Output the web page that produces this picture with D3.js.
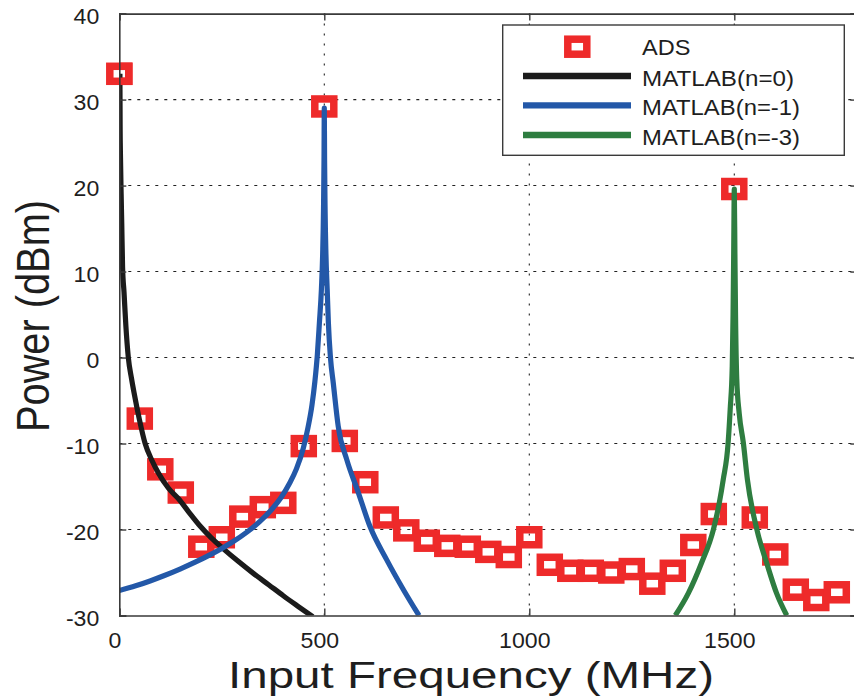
<!DOCTYPE html>
<html>
<head>
<meta charset="utf-8">
<script src="https://cdn.jsdelivr.net/npm/d3@7"></script>
<style>
  html, body { margin: 0; padding: 0; background: #fff; }
  svg { display: block; }
  text { font-family: "Liberation Sans", Arial, Helvetica, sans-serif; fill: #1e1e1e; }
</style>
</head>
<body>
<svg id="chart" width="854" height="700"></svg>
<script>
// ---------------- data ----------------
const adsFreq = [0, 50, 100, 150, 200, 250, 300, 350, 400, 450, 500, 550, 600, 650, 700, 750, 800, 850,
                 900, 950, 1000, 1050, 1100, 1150, 1200, 1250, 1300, 1350, 1400, 1450, 1500, 1550, 1600, 1650, 1700, 1750];
const adsPower = [33.0, -7.1, -13.0, -15.7, -22.0, -20.9, -18.5, -17.4, -16.9, -10.3, 29.2, -9.7, -14.5, -18.6, -20.1, -21.3, -21.9, -22.0,
                  -22.6, -23.2, -20.9, -24.1, -24.8, -24.8, -25.0, -24.6, -26.3, -24.8, -21.8, -18.2, 19.6, -18.6, -22.9, -27.0, -28.2, -27.3];

const blackFreq  = [1.5, 2, 3, 4.5, 6, 8, 11.5, 16, 22, 30, 36, 49, 63, 80, 95, 120, 144, 170, 197, 225, 254, 290, 327, 365, 400, 435, 472];
const blackPower = [33, 27, 23, 19, 15.5, 10.5, 7.6, 3.7, 0, -2.5, -4.1, -7.2, -10, -12, -13.4, -15.2, -16.4, -18, -19.6, -21, -22.25, -23.7, -25.1, -26.45, -27.7, -28.9, -30.15];

const blueFreq  = [0, 40, 75, 110, 148, 185, 221, 250, 278, 310, 343, 370, 395, 415, 432, 449, 460, 470, 477, 483, 488, 493, 496, 498, 499.3, 500,
                   500.7, 502, 504, 507, 510, 515, 522, 534, 555, 583, 611, 652, 693, 731];
const bluePower = [-27.1, -26.55, -25.98, -25.35, -24.6, -23.8, -22.95, -22.2, -21.4, -20.35, -19.05, -17.75, -16.25, -14.65, -12.95, -10.5, -8.2, -5.5, -2.8, 0.3, 4, 8, 12, 17, 23, 29,
                   23, 17, 12, 8, 4, 0, -3, -8, -11.9, -15.7, -19.6, -23.5, -27, -30];

const greenFreq  = [1356, 1388, 1420, 1449, 1463, 1473, 1485, 1490, 1495, 1497, 1498.5, 1500,
                    1501.5, 1503, 1506, 1512, 1522, 1532, 1555, 1579, 1603, 1628];
const greenPower = [-30, -27.4, -23.9, -20, -17, -14.2, -9.9, -6, -1, 5, 12, 19.6,
                    12, 5, -2.5, -6.5, -9.9, -14.2, -20, -23.9, -27.4, -30];

const xTicks = [0, 500, 1000, 1500];
const yTicks = [-30, -20, -10, 0, 10, 20, 30, 40];
const legendLabels = ["ADS", "MATLAB(n=0)", "MATLAB(n=-1)", "MATLAB(n=-3)"];
const xTitle = "Input Frequency (MHz)";
const yTitle = "Power (dBm)";

// ---------------- layout ----------------
const svg = d3.select("#chart");
svg.append("rect").attr("width", 854).attr("height", 700).attr("fill", "#fff");

const L = 119.3, R = 857.3, T = 13.6, B = 615.5;
const x = d3.scaleLinear().domain([0, 1800]).range([L, R]);
const y = d3.scaleLinear().domain([-30, 40]).range([B, T]);

const COL = { red: "#ee2a2a", black: "#1b1b1b", blue: "#2358a8", green: "#2e7d40", frame: "#3a3a3a" };

// clip
svg.append("defs").append("clipPath").attr("id", "plotclip")
  .append("rect").attr("x", L).attr("y", T).attr("width", R - L).attr("height", B - T);

// grid
const grid = svg.append("g");
grid.selectAll("line.gy").data(yTicks.filter(d => d > -30 && d < 40)).join("line")
  .attr("x1", L).attr("x2", R).attr("y1", d => y(d)).attr("y2", d => y(d))
  .attr("stroke", "#222").attr("stroke-width", 1.1).attr("stroke-dasharray", "3,6");
grid.selectAll("line.gx").data(xTicks.filter(d => d > 0)).join("line")
  .attr("y1", T).attr("y2", B).attr("x1", d => x(d)).attr("x2", d => x(d))
  .attr("stroke", "#222").attr("stroke-width", 1.1).attr("stroke-dasharray", "2,8");

const plot = svg.append("g").attr("clip-path", "url(#plotclip)");

// ADS markers (hollow squares)
const mW = 19, mH = 15, mS = 7.5;
plot.selectAll("rect.ads").data(adsFreq.map((f, i) => [f, adsPower[i]])).join("rect")
  .attr("x", d => x(d[0]) - mW / 2).attr("y", d => y(d[1]) - mH / 2)
  .attr("width", mW).attr("height", mH)
  .attr("fill", "none").attr("stroke", COL.red).attr("stroke-width", mS);
// first marker sits on axis; draw it unclipped too
svg.append("rect")
  .attr("x", x(adsFreq[0]) - mW / 2).attr("y", y(adsPower[0]) - mH / 2)
  .attr("width", mW).attr("height", mH)
  .attr("fill", "none").attr("stroke", COL.red).attr("stroke-width", mS);

// lines
const line = d3.line().x(d => x(d[0])).y(d => y(d[1])).curve(d3.curveMonotoneX);
function drawLine(fs, ps, color) {
  plot.append("path").datum(fs.map((f, i) => [f, ps[i]]))
    .attr("d", line).attr("fill", "none").attr("stroke", color)
    .attr("stroke-width", 5.2).attr("stroke-linejoin", "round");
}
drawLine(blackFreq, blackPower, COL.black);
drawLine(blueFreq, bluePower, COL.blue);
drawLine(greenFreq, greenPower, COL.green);

// axes
const fmt = d => String(d);
const gB = svg.append("g").attr("transform", `translate(0,${B})`)
  .call(d3.axisBottom(x).tickValues(xTicks).tickFormat(fmt).tickSize(-7).tickPadding(17));
const gL = svg.append("g").attr("transform", `translate(${L},0)`)
  .call(d3.axisLeft(y).tickValues(yTicks).tickFormat(fmt).tickSize(-7).tickPadding(20));
const gT = svg.append("g").attr("transform", `translate(0,${T})`)
  .call(d3.axisTop(x).tickValues(xTicks).tickFormat("").tickSize(-7));
const gR = svg.append("g").attr("transform", `translate(${R},0)`)
  .call(d3.axisRight(y).tickValues(yTicks).tickFormat("").tickSize(-7));
[gB, gL, gT, gR].forEach(g => {
  g.select(".domain").attr("stroke", COL.frame).attr("stroke-width", 1.6);
  g.selectAll(".tick line").attr("stroke", COL.frame).attr("stroke-width", 1.4);
  g.selectAll("text").attr("font-family", null).attr("font-size", 22).attr("fill", "#1e1e1e");
});
gB.selectAll(".tick text").attr("dx", -5);
gL.selectAll(".tick text").attr("y", 3);

// titles
svg.append("text").attr("class", "xt")
  .attr("x", 471).attr("y", 688).attr("text-anchor", "middle")
  .attr("font-size", 37).text(xTitle);
svg.append("text").attr("class", "yt")
  .attr("transform", "translate(49,316) rotate(-90)").attr("text-anchor", "middle")
  .attr("font-size", 47).text(yTitle);

// legend
const lg = svg.append("g");
lg.append("rect").attr("x", 502.7).attr("y", 25).attr("width", 341.6).attr("height", 130.3)
  .attr("fill", "#fff").attr("stroke", COL.frame).attr("stroke-width", 1.4);
lg.append("rect").attr("x", 577.3 - mW / 2).attr("y", 46.7 - mH / 2).attr("width", mW).attr("height", mH)
  .attr("fill", "none").attr("stroke", COL.red).attr("stroke-width", mS);
const legColors = [COL.black, COL.blue, COL.green];
const legY = [76, 105.3, 135];
legColors.forEach((c, i) => {
  lg.append("line").attr("x1", 523).attr("x2", 631).attr("y1", legY[i]).attr("y2", legY[i])
    .attr("stroke", c).attr("stroke-width", 6.3);
});
const legBase = [55, 86, 115, 145];
const legWidth = [48.4, 152, 158, 158];
legendLabels.forEach((t, i) => {
  lg.append("text").attr("class", "lt").attr("data-w", legWidth[i])
    .attr("x", 642).attr("y", legBase[i]).attr("font-size", 21.5).text(t);
});

// horizontal stretch to mimic the reference's wide glyphs
function fitTo(node, target) {
  node.setAttribute("textLength", target);
  node.setAttribute("lengthAdjust", "spacingAndGlyphs");
}
fitTo(svg.select("text.xt").node(), 486);
fitTo(svg.select("text.yt").node(), 232);
svg.selectAll("text.lt").each(function () { fitTo(this, +this.getAttribute("data-w")); });
svg.selectAll(".tick text").each(function () {
  const w = this.getComputedTextLength();
  if (w > 0) fitTo(this, w * 1.05);
});
</script>
</body>
</html>
